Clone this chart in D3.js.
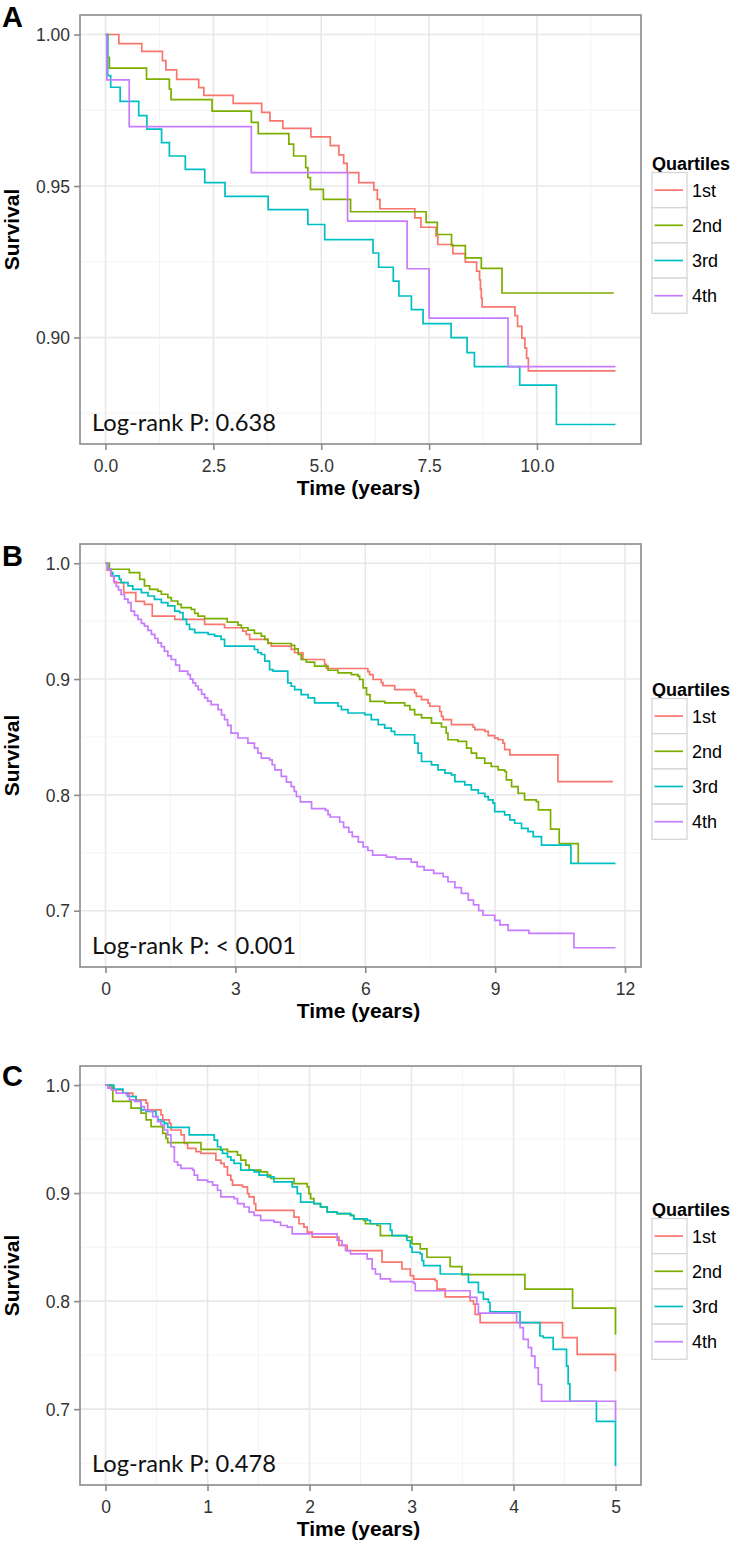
<!DOCTYPE html>
<html><head><meta charset="utf-8">
<script src="https://cdn.jsdelivr.net/npm/d3@7"></script>
<style>html,body{margin:0;padding:0;background:#fff}svg{display:block}</style>
</head><body>
<svg id="chart" width="733" height="1546"></svg>
<script>
// ---------------- data ----------------
const quartiles = ["1st", "2nd", "3rd", "4th"];
const colors = ["#F8766D", "#7CAE00", "#00BFC4", "#C77CFF"];
const panelLetters = ["A", "B", "C"];
const pLabels = ["Log-rank P: 0.638", "Log-rank P: < 0.001", "Log-rank P: 0.478"];

// Panel A survival steps [time, survival]
const A_1st = [[0,1],[0.31,0.9970],[0.84,0.9944],[1.32,0.9914],[1.40,0.9883],[1.65,0.9852],[2.16,0.9825],[2.28,0.9799],[2.96,0.9773],[3.62,0.9743],[3.81,0.9715],[4.11,0.9690],[4.76,0.9662],[5.21,0.9633],[5.41,0.9603],[5.52,0.9575],[5.60,0.9544],[5.87,0.9511],[6.22,0.9487],[6.30,0.9456],[6.36,0.9425],[7.17,0.9395],[7.31,0.9364],[7.66,0.9335],[7.70,0.9307],[8.05,0.9277],[8.34,0.9249],[8.60,0.9219],[8.67,0.9190],[8.69,0.9160],[8.71,0.9130],[8.73,0.9101],[9.49,0.9072],[9.55,0.9037],[9.65,0.8998],[9.72,0.8965],[9.76,0.8932],[9.80,0.8890]];
const A_2nd = [[0,1],[0.05,0.9925],[0.09,0.9889],[0.95,0.9853],[1.48,0.9820],[1.52,0.9785],[2.47,0.9747],[3.38,0.9710],[3.54,0.9673],[4.25,0.9638],[4.36,0.9599],[4.64,0.9561],[4.69,0.9528],[4.75,0.9489],[5.05,0.9456],[5.68,0.9415],[7.43,0.9380],[7.69,0.9340],[8.02,0.9303],[8.34,0.9263],[8.71,0.9228],[9.19,0.9147]];
const A_3rd = [[0,1],[0.05,0.9864],[0.12,0.9826],[0.34,0.9779],[0.77,0.9732],[0.96,0.9688],[1.30,0.9643],[1.48,0.9599],[1.85,0.9555],[2.30,0.9511],[2.77,0.9466],[3.77,0.9422],[4.69,0.9373],[5.08,0.9323],[6.20,0.9279],[6.33,0.9232],[6.67,0.9186],[6.80,0.9137],[7.09,0.9092],[7.36,0.9046],[8.01,0.9000],[8.38,0.8950],[8.55,0.8904],[9.60,0.8843],[10.45,0.8713]];
const A_4th = [[0,1],[0.03,0.9850],[0.55,0.9696],[3.38,0.9544],[5.61,0.9384],[6.99,0.9227],[7.50,0.9064],[9.33,0.8904]];
const A_end = [11.82, 11.78, 11.82, 11.82];

// Panel B
const B_1st = [[0,1],[0.04,0.994],[0.12,0.989],[0.20,0.9833],[0.42,0.9746],[0.70,0.9670],[0.90,0.9645],[1.08,0.9544],[1.60,0.9515],[2.29,0.9472],[2.75,0.9443],[3.17,0.9414],[3.25,0.9385],[3.33,0.9342],[3.75,0.9313],[3.83,0.9284],[4.29,0.9256],[4.37,0.9227],[4.56,0.9169],[5.06,0.9126],[5.10,0.9091],[6.06,0.9065],[6.10,0.9039],[6.18,0.8996],[6.37,0.8970],[6.41,0.8944],[6.68,0.8909],[7.14,0.8880],[7.18,0.8851],[7.30,0.8822],[7.45,0.8793],[7.49,0.8765],[7.72,0.8720],[7.76,0.8678],[7.80,0.8649],[7.99,0.8606],[8.49,0.8585],[8.53,0.8563],[8.76,0.8548],[8.84,0.8511],[8.99,0.8490],[9.07,0.8476],[9.18,0.8447],[9.22,0.8390],[9.34,0.8346],[10.45,0.8115]];
const B_2nd = [[0,1],[0.09,0.9948],[0.55,0.9919],[0.79,0.9861],[0.90,0.9804],[1.02,0.9775],[1.21,0.9760],[1.29,0.9732],[1.44,0.9703],[1.52,0.9674],[1.67,0.9645],[1.75,0.9616],[1.98,0.9602],[2.06,0.9567],[2.14,0.9544],[2.29,0.9521],[2.81,0.9492],[3.06,0.9465],[3.14,0.9443],[3.29,0.9423],[3.44,0.9394],[3.60,0.9371],[3.68,0.9342],[3.75,0.9307],[4.29,0.9290],[4.37,0.9261],[4.45,0.9212],[4.52,0.9169],[4.64,0.9146],[4.83,0.9111],[5.14,0.9076],[5.37,0.9053],[5.68,0.9039],[5.83,0.9025],[5.87,0.8996],[5.95,0.8924],[6.03,0.8866],[6.11,0.8808],[6.45,0.8794],[6.91,0.8771],[7.03,0.8736],[7.14,0.8693],[7.30,0.8664],[7.53,0.8620],[7.76,0.8586],[7.87,0.8534],[7.91,0.8476],[8.14,0.8462],[8.34,0.8404],[8.45,0.8361],[8.57,0.8317],[8.76,0.8274],[8.91,0.8245],[9.07,0.8216],[9.22,0.8202],[9.26,0.8130],[9.38,0.8072],[9.53,0.8014],[9.68,0.7957],[9.95,0.7942],[10.00,0.7870],[10.28,0.7705],[10.48,0.7580],[10.92,0.7408]];
const B_3rd = [[0,1],[0.05,0.9948],[0.13,0.9919],[0.17,0.9890],[0.32,0.9861],[0.36,0.9833],[0.52,0.9804],[0.63,0.9775],[0.83,0.9746],[0.98,0.9717],[1.13,0.9688],[1.29,0.9659],[1.44,0.9631],[1.60,0.9587],[1.71,0.9573],[1.79,0.9515],[1.87,0.9472],[1.94,0.9429],[2.06,0.9400],[2.37,0.9385],[2.52,0.9371],[2.67,0.9342],[2.75,0.9284],[3.44,0.9255],[3.52,0.9227],[3.60,0.9212],[3.68,0.9154],[3.79,0.9082],[3.87,0.9068],[4.21,0.8967],[4.29,0.8938],[4.37,0.8909],[4.52,0.8866],[4.68,0.8837],[4.83,0.8794],[5.37,0.8765],[5.45,0.8736],[5.60,0.8707],[5.99,0.8693],[6.14,0.8649],[6.30,0.8606],[6.45,0.8577],[6.60,0.8548],[6.68,0.8519],[7.14,0.8447],[7.22,0.8361],[7.30,0.8288],[7.53,0.8259],[7.68,0.8216],[7.84,0.8187],[7.99,0.8173],[8.07,0.8115],[8.30,0.8086],[8.45,0.8043],[8.61,0.8014],[8.76,0.7985],[8.84,0.7957],[8.95,0.7928],[8.99,0.7856],[9.22,0.7827],[9.34,0.7784],[9.45,0.7755],[9.61,0.7711],[9.76,0.7682],[9.88,0.7639],[10.07,0.7567],[10.75,0.7408]];
const B_4th = [[0,1],[0.05,0.995],[0.13,0.989],[0.19,0.984],[0.25,0.980],[0.30,0.977],[0.36,0.973],[0.44,0.969],[0.52,0.966],[0.59,0.9587],[0.67,0.955],[0.75,0.9515],[0.83,0.948],[0.90,0.9457],[0.98,0.942],[1.06,0.9385],[1.14,0.935],[1.21,0.9313],[1.29,0.928],[1.36,0.9241],[1.44,0.920],[1.52,0.9169],[1.62,0.912],[1.71,0.9068],[1.90,0.9039],[1.96,0.900],[2.02,0.8967],[2.08,0.894],[2.14,0.8909],[2.22,0.887],[2.29,0.8837],[2.36,0.881],[2.44,0.8779],[2.60,0.8736],[2.68,0.869],[2.75,0.8649],[2.82,0.860],[2.90,0.8534],[3.06,0.8491],[3.29,0.8447],[3.44,0.8404],[3.52,0.836],[3.60,0.8317],[3.79,0.8303],[3.85,0.826],[3.91,0.8216],[4.06,0.8159],[4.18,0.811],[4.29,0.8072],[4.36,0.803],[4.41,0.7986],[4.50,0.7939],[4.76,0.7882],[5.08,0.7867],[5.14,0.783],[5.19,0.7809],[5.41,0.7766],[5.50,0.772],[5.62,0.7679],[5.70,0.764],[5.84,0.7592],[5.95,0.755],[6.06,0.7520],[6.17,0.7480],[6.49,0.7462],[6.71,0.7448],[7.06,0.7420],[7.20,0.7380],[7.36,0.7350],[7.58,0.7322],[7.80,0.7293],[7.91,0.7250],[8.07,0.7200],[8.22,0.7150],[8.38,0.7091],[8.50,0.705],[8.62,0.700],[8.72,0.6961],[8.99,0.6917],[9.11,0.6878],[9.30,0.6830],[9.78,0.6805],[10.82,0.6680]];
const B_end = [11.72, 10.92, 11.78, 11.78];

// Panel C
const C_1st = [[0,1],[0.039,0.9972],[0.088,0.9956],[0.170,0.9926],[0.267,0.9894],[0.300,0.9863],[0.398,0.9832],[0.414,0.9770],[0.544,0.9724],[0.561,0.9677],[0.626,0.9646],[0.642,0.9584],[0.740,0.9538],[0.772,0.9460],[0.805,0.9414],[0.887,0.9383],[0.936,0.9367],[1.082,0.9305],[1.131,0.9274],[1.164,0.9243],[1.196,0.9166],[1.229,0.9119],[1.245,0.9073],[1.343,0.9057],[1.392,0.8995],[1.408,0.8964],[1.457,0.8902],[1.473,0.8840],[1.848,0.8778],[1.897,0.8716],[1.946,0.8685],[1.978,0.8639],[2.027,0.8592],[2.288,0.8515],[2.369,0.8468],[2.711,0.8360],[2.907,0.8297],[2.988,0.8235],[3.021,0.8204],[3.233,0.8189],[3.250,0.8111],[3.331,0.8040],[3.575,0.8003],[3.608,0.7972],[3.624,0.7878],[3.673,0.7801],[4.481,0.7662],[4.624,0.7507],[5.0,0.7350]];
const C_2nd = [[0,1],[0.056,0.9987],[0.072,0.9848],[0.251,0.9786],[0.349,0.9740],[0.398,0.9677],[0.447,0.9615],[0.561,0.9553],[0.593,0.9507],[0.610,0.9467],[0.936,0.9405],[1.196,0.9383],[1.294,0.9352],[1.326,0.9305],[1.375,0.9259],[1.408,0.9212],[1.522,0.9197],[1.587,0.9166],[1.620,0.9135],[1.848,0.9088],[1.978,0.9057],[1.994,0.8995],[2.011,0.8948],[2.043,0.8902],[2.108,0.8871],[2.174,0.8824],[2.271,0.8809],[2.402,0.8793],[2.434,0.8762],[2.532,0.8747],[2.548,0.8716],[2.662,0.8700],[2.695,0.8607],[2.950,0.8592],[3.005,0.8530],[3.086,0.8483],[3.151,0.8406],[3.379,0.8319],[3.493,0.8245],[4.112,0.8111],[4.579,0.7935],[5.0,0.7690]];
const C_3rd = [[0,1],[0.082,0.9962],[0.170,0.9925],[0.218,0.9894],[0.300,0.9850],[0.349,0.9770],[0.398,0.9755],[0.495,0.9708],[0.512,0.9677],[0.544,0.9662],[0.577,0.9646],[0.610,0.9609],[0.821,0.9538],[1.066,0.9491],[1.098,0.9429],[1.131,0.9398],[1.147,0.9367],[1.196,0.9336],[1.229,0.9305],[1.261,0.9274],[1.326,0.9212],[1.457,0.9197],[1.506,0.9166],[1.587,0.9150],[1.652,0.9104],[1.831,0.9057],[1.880,0.8995],[1.913,0.8917],[2.043,0.8902],[2.108,0.8871],[2.174,0.8824],[2.271,0.8809],[2.402,0.8793],[2.434,0.8762],[2.565,0.8747],[2.597,0.8716],[2.793,0.8654],[2.809,0.8607],[2.955,0.8561],[2.988,0.8499],[3.005,0.8452],[3.086,0.8437],[3.103,0.8375],[3.119,0.8328],[3.282,0.8251],[3.558,0.8173],[3.656,0.8080],[3.705,0.8018],[3.754,0.7987],[3.770,0.7900],[4.064,0.7801],[4.259,0.7677],[4.292,0.7662],[4.389,0.7553],[4.520,0.7398],[4.536,0.7234],[4.553,0.7073],[4.813,0.6887],[5.0,0.6474]];
const C_4th = [[0,1],[0.023,0.9972],[0.056,0.9956],[0.104,0.9925],[0.202,0.9910],[0.235,0.9863],[0.284,0.9848],[0.349,0.9801],[0.381,0.9770],[0.430,0.9755],[0.463,0.9708],[0.512,0.9662],[0.544,0.9631],[0.577,0.9584],[0.610,0.9538],[0.642,0.9429],[0.675,0.9290],[0.707,0.9259],[0.740,0.9228],[0.854,0.9212],[0.870,0.9166],[0.903,0.9119],[1.001,0.9104],[1.050,0.9073],[1.098,0.9026],[1.131,0.8964],[1.261,0.8948],[1.294,0.8902],[1.359,0.8871],[1.408,0.8824],[1.457,0.8793],[1.522,0.8747],[1.652,0.8731],[1.717,0.8700],[1.782,0.8685],[1.831,0.8623],[2.271,0.8561],[2.320,0.8515],[2.353,0.8468],[2.402,0.8437],[2.565,0.8391],[2.614,0.8298],[2.646,0.8251],[2.695,0.8205],[2.793,0.8180],[3.021,0.8164],[3.037,0.8096],[3.575,0.8034],[3.640,0.7972],[3.656,0.7888],[4.031,0.7801],[4.064,0.7755],[4.096,0.7646],[4.145,0.7569],[4.177,0.7491],[4.210,0.7383],[4.243,0.7228],[4.275,0.7073],[5.0,0.6900]];
const C_end = [5.0, 5.0, 5.0, 5.0];

// axis ticks
const A_xTicks = [0, 2.5, 5, 7.5, 10], A_xLabels = ["0.0", "2.5", "5.0", "7.5", "10.0"];
const A_yTicks = [0.90, 0.95, 1.00], A_yLabels = ["0.90", "0.95", "1.00"];
const A_xMinor = [1.25, 3.75, 6.25, 8.75, 11.25], A_yMinor = [0.875, 0.925, 0.975];
const B_xTicks = [0, 3, 6, 9, 12], B_xLabels = ["0", "3", "6", "9", "12"];
const B_yTicks = [0.7, 0.8, 0.9, 1.0], B_yLabels = ["0.7", "0.8", "0.9", "1.0"];
const B_xMinor = [1.5, 4.5, 7.5, 10.5], B_yMinor = [0.75, 0.85, 0.95];
const C_xTicks = [0, 1, 2, 3, 4, 5], C_xLabels = ["0", "1", "2", "3", "4", "5"];
const C_yTicks = [0.7, 0.8, 0.9, 1.0], C_yLabels = ["0.7", "0.8", "0.9", "1.0"];
const C_xMinor = [0.5, 1.5, 2.5, 3.5, 4.5], C_yMinor = [0.65, 0.75, 0.85, 0.95];

const xTitle = "Time (years)", yTitle = "Survival", legendTitle = "Quartiles";

// ---------------- layout ----------------
const panels = [
  {series: [A_1st, A_2nd, A_3rd, A_4th], ends: A_end, xt: A_xTicks, xl: A_xLabels, yt: A_yTicks, yl: A_yLabels, xm: A_xMinor, ym: A_yMinor, top: 15, bottom: 444, letterY: 27},
  {series: [B_1st, B_2nd, B_3rd, B_4th], ends: B_end, xt: B_xTicks, xl: B_xLabels, yt: B_yTicks, yl: B_yLabels, xm: B_xMinor, ym: B_yMinor, top: 544, bottom: 967, letterY: 566},
  {series: [C_1st, C_2nd, C_3rd, C_4th], ends: C_end, xt: C_xTicks, xl: C_xLabels, yt: C_yTicks, yl: C_yLabels, xm: C_xMinor, ym: C_yMinor, top: 1066, bottom: 1485, letterY: 1086}
];
const LEFT = 80, RIGHT = 641;
const pTextLen = [184, 204, 184];

const svg = d3.select("#chart");
const sans = "'Liberation Sans', Arial, Helvetica, sans-serif";

panels.forEach((p, pi) => {
  const xMax = d3.max(p.ends);
  const yMin = d3.min(p.series.flat(), d => d[1]);
  const xPad = 0.05 * xMax, yPad = 0.05 * (1 - yMin);
  const x = d3.scaleLinear().domain([-xPad, xMax + xPad]).range([LEFT, RIGHT]);
  const y = d3.scaleLinear().domain([yMin - yPad, 1 + yPad]).range([p.bottom, p.top]);
  const g = svg.append("g");

  // minor grid
  g.selectAll(".xm").data(p.xm.filter(v => v > x.domain()[0] && v < x.domain()[1])).join("line")
    .attr("x1", d => x(d)).attr("x2", d => x(d)).attr("y1", p.top).attr("y2", p.bottom)
    .attr("stroke", "#f3f3f3").attr("stroke-width", 0.9);
  g.selectAll(".ym").data(p.ym.filter(v => v > y.domain()[0] && v < y.domain()[1])).join("line")
    .attr("y1", d => y(d)).attr("y2", d => y(d)).attr("x1", LEFT).attr("x2", RIGHT)
    .attr("stroke", "#f3f3f3").attr("stroke-width", 0.9);
  // major grid
  g.selectAll(".xg").data(p.xt).join("line")
    .attr("x1", d => x(d)).attr("x2", d => x(d)).attr("y1", p.top).attr("y2", p.bottom)
    .attr("stroke", "#e8e8e8").attr("stroke-width", 1.6);
  g.selectAll(".yg").data(p.yt).join("line")
    .attr("y1", d => y(d)).attr("y2", d => y(d)).attr("x1", LEFT).attr("x2", RIGHT)
    .attr("stroke", "#e8e8e8").attr("stroke-width", 1.6);

  // curves
  const line = d3.line().x(d => x(d[0])).y(d => y(d[1])).curve(d3.curveStepAfter);
  p.series.forEach((s, si) => {
    const pts = s.slice();
    const last = pts[pts.length - 1];
    if (p.ends[si] > last[0]) pts.push([p.ends[si], last[1]]);
    g.append("path").attr("d", line(pts)).attr("fill", "none")
      .attr("stroke", colors[si]).attr("stroke-width", 1.7);
  });

  // panel border
  g.append("rect").attr("x", LEFT).attr("y", p.top).attr("width", RIGHT - LEFT).attr("height", p.bottom - p.top)
    .attr("fill", "none").attr("stroke", "#8a8a8a").attr("stroke-width", 1.6);

  // axes
  const xa = g.append("g").attr("transform", `translate(0,${p.bottom})`)
    .call(d3.axisBottom(x).tickValues(p.xt).tickFormat((d, i) => p.xl[i]).tickSize(6).tickPadding(5));
  const ya = g.append("g").attr("transform", `translate(${LEFT},0)`)
    .call(d3.axisLeft(y).tickValues(p.yt).tickFormat((d, i) => p.yl[i]).tickSize(6).tickPadding(5));
  [xa, ya].forEach(a => {
    a.select(".domain").remove();
    a.selectAll(".tick line").attr("stroke", "#8a8a8a").attr("stroke-width", 1.6);
    a.selectAll(".tick text").attr("fill", "#333").style("font-family", sans).style("font-size", "17.5px");
  });
  xa.selectAll(".tick text").attr("dy", null).attr("y", 28).attr("dominant-baseline", "auto");
  ya.selectAll(".tick text").attr("dy", "0.35em").attr("x", -10);

  // axis titles
  g.append("text").attr("x", (LEFT + RIGHT) / 2 - 2).attr("y", p.bottom + 51).attr("text-anchor", "middle")
    .style("font-family", sans).style("font-weight", "bold").style("font-size", "21px").attr("fill", "#000").text(xTitle);
  g.append("text").attr("transform", `translate(18.5,${(p.top + p.bottom) / 2}) rotate(-90)`).attr("text-anchor", "middle")
    .style("font-family", sans).style("font-weight", "bold").style("font-size", "21px").attr("fill", "#000").text(yTitle);

  // panel letter
  g.append("text").attr("x", 2).attr("y", p.letterY)
    .style("font-family", sans).style("font-weight", "bold").style("font-size", "29px").attr("fill", "#000").text(panelLetters[pi]);

  // log-rank label
  g.append("text").attr("x", 92).attr("y", p.bottom - 13.5)
    .attr("textLength", pTextLen[pi]).attr("lengthAdjust", "spacingAndGlyphs")
    .style("font-family", "Lato, 'Open Sans', sans-serif").style("font-size", "23px").attr("fill", "#111").text(pLabels[pi]);

  // legend
  const cy = (p.top + p.bottom) / 2;
  const ly = cy - 57;
  const keyH = 35.2, keyW = 35, lx = 652;
  const lg = g.append("g");
  lg.append("text").attr("x", lx).attr("y", ly - 2.5)
    .style("font-family", sans).style("font-weight", "bold").style("font-size", "18px").attr("fill", "#000").text(legendTitle);
  quartiles.forEach((q, qi) => {
    const ky = ly + qi * keyH;
    lg.append("rect").attr("x", lx).attr("y", ky).attr("width", keyW).attr("height", keyH)
      .attr("fill", "#fff").attr("stroke", "#d6d6d6").attr("stroke-width", 1.3);
    lg.append("line").attr("x1", lx + 2.5).attr("x2", lx + keyW - 4).attr("y1", ky + keyH / 2).attr("y2", ky + keyH / 2)
      .attr("stroke", colors[qi]).attr("stroke-width", 1.7);
    lg.append("text").attr("x", lx + 40).attr("y", ky + keyH / 2).attr("dy", "0.36em")
      .style("font-family", sans).style("font-size", "18px").attr("fill", "#000").text(q);
  });
});
</script>
</body></html>
